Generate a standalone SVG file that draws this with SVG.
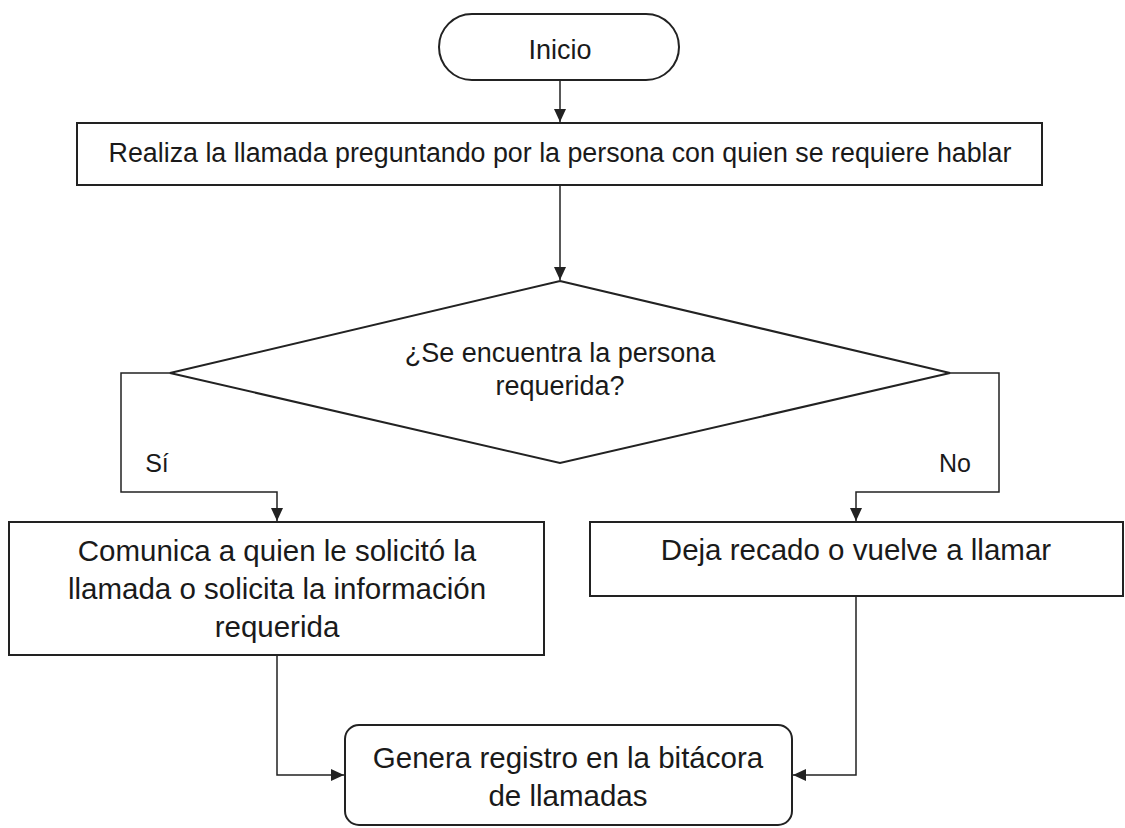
<svg xmlns="http://www.w3.org/2000/svg" width="1125" height="828" viewBox="0 0 1125 828">
<style>
.shape{fill:#ffffff;stroke:#222;stroke-width:2}
.line{fill:none;stroke:#222;stroke-width:1.5}
.t{font-family:"Liberation Sans",Arial,sans-serif;fill:#1a1a1a;text-anchor:middle}
.s27{font-size:27px}
.s26{font-size:26.8px}
.s29{font-size:29.5px}
.s25{font-size:25px}
</style>
<defs>
<marker id="arr" markerWidth="14" markerHeight="12" refX="13" refY="6" orient="auto" markerUnits="userSpaceOnUse">
<path d="M0,0 L13,6 L0,12 Z" fill="#222"/>
</marker>
</defs>
<rect width="1125" height="828" fill="#ffffff"/>
<g id="connectors">
<line class="line" x1="560" y1="80" x2="560" y2="122" marker-end="url(#arr)"/>
<line class="line" x1="560" y1="185" x2="560" y2="280" marker-end="url(#arr)"/>
<polyline class="line" points="170,373 121,373 121,492 277,492 277,521" marker-end="url(#arr)"/>
<polyline class="line" points="950,373 999,373 999,492 856,492 856,521" marker-end="url(#arr)"/>
<polyline class="line" points="277,655 277,775 344,775" marker-end="url(#arr)"/>
<polyline class="line" points="856,596 856,775 793,775" marker-end="url(#arr)"/>
<text class="t s25" x="157" y="472">Sí</text>
<text class="t s25" x="955" y="472">No</text>
</g>
<g id="inicio">
<rect class="shape" x="439" y="14" width="240" height="66" rx="33" ry="33"/>
<text class="t s27" x="560" y="59">Inicio</text>
</g>
<g id="realiza">
<rect class="shape" x="77" y="123" width="965" height="62"/>
<text class="t s26" x="560" y="162">Realiza la llamada preguntando por la persona con quien se requiere hablar</text>
</g>
<g id="decision">
<polygon class="shape" points="560,281 950,373 560,463 170,373"/>
<text class="t s27" x="560" y="362">¿Se encuentra la persona</text>
<text class="t s27" x="560" y="395">requerida?</text>
</g>
<g id="comunica">
<rect class="shape" x="9" y="522" width="535" height="133"/>
<text class="t s29" x="277" y="561">Comunica a quien le solicitó la</text>
<text class="t s29" x="277" y="599">llamada o solicita la información</text>
<text class="t s29" x="277" y="637">requerida</text>
</g>
<g id="deja">
<rect class="shape" x="590" y="522" width="533" height="74"/>
<text class="t s29" x="856" y="560">Deja recado o vuelve a llamar</text>
</g>
<g id="genera">
<rect class="shape" x="345" y="725" width="447" height="100" rx="14" ry="14"/>
<text class="t s29" x="568" y="768">Genera registro en la bitácora</text>
<text class="t s29" x="568" y="806">de llamadas</text>
</g>
</svg>
